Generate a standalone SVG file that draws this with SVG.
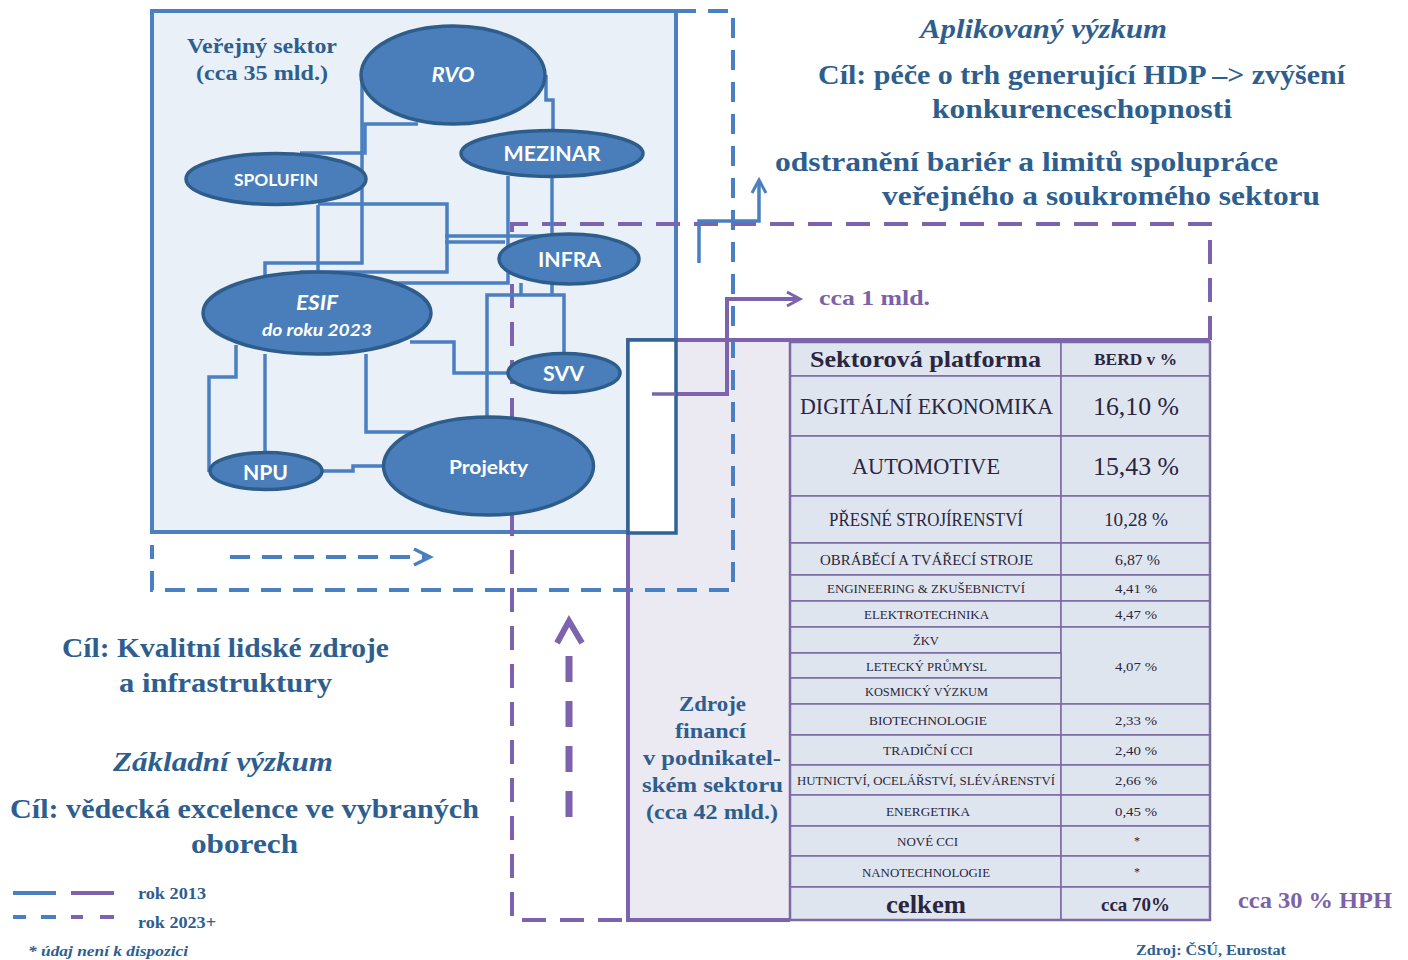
<svg xmlns="http://www.w3.org/2000/svg" width="1408" height="960" viewBox="0 0 1408 960">
<style>
.conn{fill:none;stroke:#4a7fc1;stroke-width:3.5}
.bdash{fill:none;stroke:#4a7fc1;stroke-width:4;stroke-dasharray:20 12}
.pdash{fill:none;stroke:#7d63ad;stroke-width:4;stroke-dasharray:24 14}
.psolid{fill:none;stroke:#7d63ad;stroke-width:4}
.node{fill:#4a7ebb;stroke:#2e5d8b;stroke-width:3.5}
.nl{font-family:Lato,"Open Sans",sans-serif;font-weight:bold;fill:#fff;text-anchor:middle}
.it{font-style:italic}
.ser{font-family:"Liberation Serif",serif}
.blue{fill:#2e5e8e;font-weight:bold}
.purp{fill:#7b62a8;font-weight:bold}
.cell{fill:#dfe5ef;stroke:#7a6aa3;stroke-width:1.5}
.tt{font-family:"Liberation Serif",serif;fill:#2b2540;text-anchor:middle}
.mid{text-anchor:middle}
</style>

<!-- main public sector box -->
<rect id="public-sector" x="152" y="11" width="524" height="521" fill="#eaf0f7" stroke="#4a7fc1" stroke-width="4"/>

<!-- lavender background for business column -->
<rect x="628" y="340" width="162" height="580" fill="#ebe9f1"/>

<!-- table -->
<g id="table">
  <rect class="cell" x="790" y="342" width="271" height="34"/><rect class="cell" x="1061" y="342" width="149" height="34"/>
  <rect class="cell" x="790" y="376" width="271" height="60"/><rect class="cell" x="1061" y="376" width="149" height="60"/>
  <rect class="cell" x="790" y="436" width="271" height="60"/><rect class="cell" x="1061" y="436" width="149" height="60"/>
  <rect class="cell" x="790" y="496" width="271" height="47"/><rect class="cell" x="1061" y="496" width="149" height="47"/>
  <rect class="cell" x="790" y="543" width="271" height="32"/><rect class="cell" x="1061" y="543" width="149" height="32"/>
  <rect class="cell" x="790" y="575" width="271" height="26"/><rect class="cell" x="1061" y="575" width="149" height="26"/>
  <rect class="cell" x="790" y="601" width="271" height="26"/><rect class="cell" x="1061" y="601" width="149" height="26"/>
  <rect class="cell" x="790" y="627" width="271" height="26"/><rect class="cell" x="1061" y="627" width="149" height="77"/>
  <rect class="cell" x="790" y="653" width="271" height="25"/>
  <rect class="cell" x="790" y="678" width="271" height="26"/>
  <rect class="cell" x="790" y="704" width="271" height="31"/><rect class="cell" x="1061" y="704" width="149" height="31"/>
  <rect class="cell" x="790" y="735" width="271" height="30"/><rect class="cell" x="1061" y="735" width="149" height="30"/>
  <rect class="cell" x="790" y="765" width="271" height="30"/><rect class="cell" x="1061" y="765" width="149" height="30"/>
  <rect class="cell" x="790" y="795" width="271" height="31"/><rect class="cell" x="1061" y="795" width="149" height="31"/>
  <rect class="cell" x="790" y="826" width="271" height="30"/><rect class="cell" x="1061" y="826" width="149" height="30"/>
  <rect class="cell" x="790" y="856" width="271" height="31"/><rect class="cell" x="1061" y="856" width="149" height="31"/>
  <rect class="cell" x="790" y="887" width="271" height="33"/><rect class="cell" x="1061" y="887" width="149" height="33"/>
  <rect x="790" y="342" width="420" height="578" fill="none" stroke="#7a6aa3" stroke-width="2.5"/>

  <text class="tt" x="925.5" y="367" font-size="23" font-weight="bold" textLength="231" lengthAdjust="spacingAndGlyphs">Sektorová platforma</text>
  <text class="tt" x="1135.5" y="365" font-size="17" font-weight="bold" textLength="83" lengthAdjust="spacingAndGlyphs">BERD v %</text>
  <text class="tt" x="926.5" y="414" font-size="23" textLength="253" lengthAdjust="spacingAndGlyphs">DIGITÁLNÍ EKONOMIKA</text>
  <text class="tt" x="1136" y="415" font-size="25" textLength="86" lengthAdjust="spacingAndGlyphs">16,10 %</text>
  <text class="tt" x="926" y="474" font-size="23" textLength="148" lengthAdjust="spacingAndGlyphs">AUTOMOTIVE</text>
  <text class="tt" x="1136" y="475" font-size="25" textLength="86" lengthAdjust="spacingAndGlyphs">15,43 %</text>
  <text class="tt" x="926" y="526" font-size="18" textLength="194" lengthAdjust="spacingAndGlyphs">PŘESNÉ STROJÍRENSTVÍ</text>
  <text class="tt" x="1136" y="526" font-size="18" textLength="64" lengthAdjust="spacingAndGlyphs">10,28 %</text>
  <text class="tt" x="926.5" y="564.5" font-size="15" textLength="213" lengthAdjust="spacingAndGlyphs">OBRÁBĚCÍ A TVÁŘECÍ STROJE</text>
  <text class="tt" x="1137.5" y="564.5" font-size="15" textLength="45" lengthAdjust="spacingAndGlyphs">6,87 %</text>
  <text class="tt" x="926" y="593" font-size="13.5" textLength="198" lengthAdjust="spacingAndGlyphs">ENGINEERING &amp; ZKUŠEBNICTVÍ</text>
  <text class="tt" x="1136" y="593" font-size="13.5" textLength="42" lengthAdjust="spacingAndGlyphs">4,41 %</text>
  <text class="tt" x="926.5" y="619" font-size="13.5" textLength="125" lengthAdjust="spacingAndGlyphs">ELEKTROTECHNIKA</text>
  <text class="tt" x="1136" y="619" font-size="13.5" textLength="42" lengthAdjust="spacingAndGlyphs">4,47 %</text>
  <text class="tt" x="926" y="645" font-size="13.5" textLength="26" lengthAdjust="spacingAndGlyphs">ŽKV</text>
  <text class="tt" x="926.5" y="670.5" font-size="13.5" textLength="121" lengthAdjust="spacingAndGlyphs">LETECKÝ PRŮMYSL</text>
  <text class="tt" x="926.5" y="696" font-size="13.5" textLength="123" lengthAdjust="spacingAndGlyphs">KOSMICKÝ VÝZKUM</text>
  <text class="tt" x="1136" y="670.5" font-size="13.5" textLength="42" lengthAdjust="spacingAndGlyphs">4,07 %</text>
  <text class="tt" x="928" y="724.5" font-size="13.5" textLength="118" lengthAdjust="spacingAndGlyphs">BIOTECHNOLOGIE</text>
  <text class="tt" x="1136" y="724.5" font-size="13.5" textLength="42" lengthAdjust="spacingAndGlyphs">2,33 %</text>
  <text class="tt" x="928" y="755" font-size="13.5" textLength="90" lengthAdjust="spacingAndGlyphs">TRADIČNÍ CCI</text>
  <text class="tt" x="1136" y="755" font-size="13.5" textLength="42" lengthAdjust="spacingAndGlyphs">2,40 %</text>
  <text class="tt" x="926" y="785" font-size="13.5" textLength="258" lengthAdjust="spacingAndGlyphs">HUTNICTVÍ, OCELÁŘSTVÍ, SLÉVÁRENSTVÍ</text>
  <text class="tt" x="1136" y="785" font-size="13.5" textLength="42" lengthAdjust="spacingAndGlyphs">2,66 %</text>
  <text class="tt" x="928" y="815.5" font-size="13.5" textLength="84" lengthAdjust="spacingAndGlyphs">ENERGETIKA</text>
  <text class="tt" x="1136" y="815.5" font-size="13.5" textLength="42" lengthAdjust="spacingAndGlyphs">0,45 %</text>
  <text class="tt" x="927.5" y="846" font-size="13.5" textLength="61" lengthAdjust="spacingAndGlyphs">NOVÉ CCI</text>
  <text class="tt" x="1137" y="845" font-size="12">*</text>
  <text class="tt" x="926" y="876.5" font-size="13.5" textLength="128" lengthAdjust="spacingAndGlyphs">NANOTECHNOLOGIE</text>
  <text class="tt" x="1137" y="876" font-size="12">*</text>
  <text class="tt" x="926" y="913" font-size="25" font-weight="bold" textLength="80" lengthAdjust="spacingAndGlyphs">celkem</text>
  <text class="tt" x="1135.5" y="911" font-size="19" font-weight="bold" textLength="69" lengthAdjust="spacingAndGlyphs">cca 70%</text>
</g>

<!-- connectors -->
<g id="connectors">
  <!-- blue dashed frame (rok 2023+) -->
  <path class="bdash" d="M676,11 H733 V590 H152 V545"/>
  <!-- purple dashed frame -->
  <path class="pdash" d="M1210,340 V224 H512 V920 H628"/>
  <!-- purple solid frame -->
  <path class="psolid" d="M790,920 H628 V340 H1210"/>

  <!-- internal blue connectors -->
  <path class="conn" d="M362,75 V263 H265 V282"/>
  <path class="conn" d="M418,124 H365 V153 H300"/>
  <path class="conn" d="M546,75 V100 H553 V131"/>
  <path class="conn" d="M318,205 V275"/>
  <path class="conn" d="M318,204 H447 V272 H300"/>
  <path class="conn" d="M445,236 H565"/>
  <path class="conn" d="M445,242 H505"/>
  <path class="conn" d="M508,176 V283 H390"/>
  <path class="conn" d="M552,177 V236"/>
  <path class="conn" d="M521,283 V295"/>
  <path class="conn" d="M552,283 V295"/>
  <path class="conn" d="M487,417 V295 H564 V354"/>
  <path class="conn" d="M410,342 H454 V373 H509"/>
  <path class="conn" d="M366,354 V432 H412"/>
  <path class="conn" d="M265,354 V453"/>
  <path class="conn" d="M236,345 V377 H209 V472"/>
  <path class="conn" d="M322,471 H353 V466 H384"/>

  <!-- blue dashed arrow -->
  <path class="bdash" d="M230,557 H426" stroke-dasharray="22 12"/>
  <path d="M414,549 L430,557 L414,565" fill="none" stroke="#4a7fc1" stroke-width="3.5"/>

  <!-- blue arrow to applied research -->
  <path class="conn" d="M699,263 V221 H759 V183"/>
  <path d="M752,193 L759,180 L766,193" fill="none" stroke="#4a7fc1" stroke-width="3"/>

  <!-- purple arrow cca 1 mld -->
  <path class="psolid" d="M652,394 H727 V299 H797" stroke-width="3.5"/>
  <path d="M787,292 L800,299 L787,306" fill="none" stroke="#7d63ad" stroke-width="3"/>

  <!-- purple dashed upward arrow -->
  <path d="M569,817 V640" fill="none" stroke="#7d63ad" stroke-width="7" stroke-dasharray="26 19"/>
  <path d="M557,643 L569,621 L582,643" fill="none" stroke="#7d63ad" stroke-width="6"/>
</g>

<!-- white dark-bordered rectangle -->
<rect id="gap-box" x="628" y="340" width="48" height="193" fill="#fff" stroke="#2f6494" stroke-width="3.5"/>
<path d="M652,394 H676" stroke="#7d63ad" stroke-width="3.5"/>

<!-- nodes -->
<g id="node-rvo"><ellipse class="node" cx="453" cy="75" rx="92" ry="49"/><text class="nl it" x="453" y="82" font-size="21" textLength="43" lengthAdjust="spacingAndGlyphs">RVO</text></g>
<g id="node-mezinar"><ellipse class="node" cx="552" cy="153.5" rx="91" ry="23"/><text class="nl" x="552" y="161" font-size="21" textLength="97" lengthAdjust="spacingAndGlyphs">MEZINAR</text></g>
<g id="node-spolufin"><ellipse class="node" cx="276" cy="179" rx="90" ry="25.5"/><text class="nl" x="276" y="186" font-size="17" textLength="84" lengthAdjust="spacingAndGlyphs">SPOLUFIN</text></g>
<g id="node-infra"><ellipse class="node" cx="569" cy="259" rx="70" ry="25"/><text class="nl" x="569.5" y="267" font-size="21" textLength="63" lengthAdjust="spacingAndGlyphs">INFRA</text></g>
<g id="node-esif"><ellipse class="node" cx="317" cy="313" rx="114" ry="41"/><text class="nl it" x="317" y="310" font-size="21" textLength="42" lengthAdjust="spacingAndGlyphs">ESIF</text><text class="nl it" x="317" y="336" font-size="17" textLength="110" lengthAdjust="spacingAndGlyphs">do roku 2023</text></g>
<g id="node-svv"><ellipse class="node" cx="564" cy="373" rx="56" ry="19.5"/><text class="nl" x="563.5" y="381" font-size="21" textLength="41" lengthAdjust="spacingAndGlyphs">SVV</text></g>
<g id="node-npu"><ellipse class="node" cx="266" cy="471" rx="56" ry="18.5"/><text class="nl" x="265.5" y="480" font-size="21" textLength="45" lengthAdjust="spacingAndGlyphs">NPU</text></g>
<g id="node-projekty"><ellipse class="node" cx="488.5" cy="466" rx="105" ry="49"/><text class="nl" x="488.5" y="474" font-size="19" textLength="79" lengthAdjust="spacingAndGlyphs">Projekty</text></g>

<!-- texts -->
<g id="labels" class="ser">
  <text class="blue mid" x="262" y="53" font-size="20" textLength="150" lengthAdjust="spacingAndGlyphs">Veřejný sektor</text>
  <text class="blue mid" x="262" y="80" font-size="20" textLength="132" lengthAdjust="spacingAndGlyphs">(cca 35 mld.)</text>

  <text class="blue mid it" x="1043.5" y="38" font-size="27" textLength="247" lengthAdjust="spacingAndGlyphs">Aplikovaný výzkum</text>
  <text class="blue mid" x="1081.5" y="84" font-size="27" textLength="527" lengthAdjust="spacingAndGlyphs">Cíl: péče o trh generující HDP –&gt; zvýšení</text>
  <text class="blue mid" x="1082" y="118" font-size="27" textLength="300" lengthAdjust="spacingAndGlyphs">konkurenceschopnosti</text>
  <text class="blue" x="775" y="171" font-size="27" textLength="503" lengthAdjust="spacingAndGlyphs">odstranění bariér  a limitů spolupráce</text>
  <text class="blue" x="882" y="205" font-size="27" textLength="438" lengthAdjust="spacingAndGlyphs">veřejného a soukromého sektoru</text>
  <text class="purp" x="819" y="305" font-size="22" textLength="111" lengthAdjust="spacingAndGlyphs">cca 1 mld.</text>

  <text class="blue mid" x="225.5" y="657" font-size="27" textLength="327" lengthAdjust="spacingAndGlyphs">Cíl: Kvalitní lidské zdroje</text>
  <text class="blue mid" x="225.5" y="692" font-size="27" textLength="213" lengthAdjust="spacingAndGlyphs">a infrastruktury</text>
  <text class="blue mid it" x="223" y="771" font-size="27" textLength="220" lengthAdjust="spacingAndGlyphs">Základní výzkum</text>
  <text class="blue mid" x="244.5" y="818" font-size="27" textLength="469" lengthAdjust="spacingAndGlyphs">Cíl: vědecká excelence ve vybraných</text>
  <text class="blue mid" x="244.5" y="853" font-size="27" textLength="107" lengthAdjust="spacingAndGlyphs">oborech</text>

  <text class="blue mid" x="712.5" y="711" font-size="21" textLength="67" lengthAdjust="spacingAndGlyphs">Zdroje</text>
  <text class="blue mid" x="710.5" y="738" font-size="21" textLength="71" lengthAdjust="spacingAndGlyphs">financí</text>
  <text class="blue mid" x="712" y="765" font-size="21" textLength="138" lengthAdjust="spacingAndGlyphs">v podnikatel-</text>
  <text class="blue mid" x="712.5" y="792" font-size="21" textLength="141" lengthAdjust="spacingAndGlyphs">ském sektoru</text>
  <text class="blue mid" x="712" y="819" font-size="21" textLength="132" lengthAdjust="spacingAndGlyphs">(cca 42 mld.)</text>

  <text class="purp" x="1238" y="908" font-size="24" textLength="154" lengthAdjust="spacingAndGlyphs">cca 30 % HPH</text>
  <text class="blue" x="1136" y="955" font-size="15.5" textLength="150" lengthAdjust="spacingAndGlyphs">Zdroj: ČSÚ, Eurostat</text>

  <text class="blue" x="138" y="899" font-size="16" textLength="68" lengthAdjust="spacingAndGlyphs">rok 2013</text>
  <text class="blue" x="138" y="928" font-size="16" textLength="78" lengthAdjust="spacingAndGlyphs">rok 2023+</text>
  <text class="blue it" x="28" y="956" font-size="15.5" textLength="160" lengthAdjust="spacingAndGlyphs">* údaj není k dispozici</text>
</g>

<!-- legend lines -->
<g id="legend">
  <path d="M13,893 H56" stroke="#4a7fc1" stroke-width="4"/>
  <path d="M71,893 H114" stroke="#7d63ad" stroke-width="4"/>
  <path d="M13,917 H26 M41,917 H56" stroke="#4a7fc1" stroke-width="4"/>
  <path d="M71,917 H83 M100,917 H114" stroke="#7d63ad" stroke-width="4"/>
</g>
</svg>
